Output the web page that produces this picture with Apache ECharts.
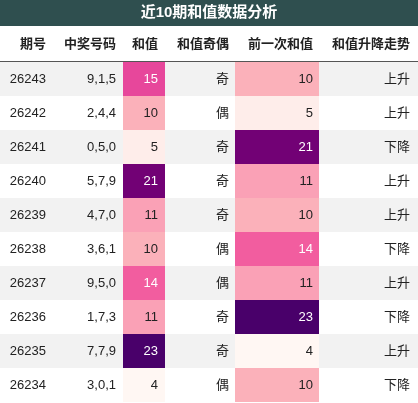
<!DOCTYPE html><html><head><meta charset="utf-8"><script src="https://cdn.jsdelivr.net/npm/echarts@6/dist/echarts.min.js"></script>
<style>html,body{margin:0;padding:0;background:#fff}#c{width:418px;height:403px}</style></head><body><div id="c"></div>
<script>
const title = '近10期和值数据分析';
const headers = ['期号','中奖号码','和值','和值奇偶','前一次和值','和值升降走势'];
const issues = ['26243','26242','26241','26240','26239','26238','26237','26236','26235','26234'];
const numbers = ['9,1,5','2,4,4','0,5,0','5,7,9','4,7,0','3,6,1','9,5,0','1,7,3','7,7,9','3,0,1'];
const sums = [15,10,5,21,11,10,14,11,23,4];
const parity = ['奇','偶','奇','奇','奇','偶','偶','奇','奇','偶'];
const prevSums = [10,5,21,11,10,14,11,23,4,10];
const trend = ['上升','上升','下降','上升','上升','下降','上升','下降','上升','下降'];

const cols = [[0,50,46],[50,120,116],[123,165,158],[165,235,229],[235,319,313],[319,418,410]];
const FONT = '"Liberation Sans","Noto Sans CJK SC",sans-serif';
const chart = echarts.init(document.getElementById('c'));
const rowIdx = issues.map((_, i) => i);
const heat = [];
sums.forEach((v,i)=>heat.push([0,i,v,2]));
prevSums.forEach((v,i)=>heat.push([0,i,v,4]));
const texts = [];
issues.forEach((s,i)=>{texts.push([0,i,s,0]);texts.push([0,i,numbers[i],1]);texts.push([0,i,parity[i],3]);texts.push([0,i,trend[i],5]);});

function cellRect(api,row,c){
  const p = api.coord([cols[c][0],row]); const p2 = api.coord([cols[c][1],row]);
  const h = api.size([0,1])[1];
  return {x:p[0],y:p[1]-h/2,w:p2[0]-p[0],h:h,cy:p[1],tx:api.coord([cols[c][2],row])[0]};
}
chart.setOption({
  animation:false,
  grid:{left:0,right:0,top:62,bottom:1},
  xAxis:{type:'value',min:0,max:418,show:false},
  yAxis:{type:'category',data:rowIdx,inverse:true,show:false},
  visualMap:{show:false,seriesIndex:1,dimension:2,min:4,max:23,
    inRange:{color:['#fff7f3','#fde0dd','#fcc5c0','#fa9fb5','#f768a1','#dd3497','#ae017e','#7a0177','#49006a']}},
  graphic:[
    {type:'rect',shape:{x:0,y:0,width:418,height:26},style:{fill:'#2f4f4f'}},
    {type:'text',x:209,y:13,style:{text:title,fill:'#fff',font:'bold 15px '+FONT,align:'center',verticalAlign:'middle'}},
    {type:'line',shape:{x1:0,y1:61.5,x2:418,y2:61.5},style:{stroke:'#555',lineWidth:1}},
    ...headers.map((h,i)=>({type:'text',x:cols[i][2],y:44,style:{text:h,fill:'#222',font:'bold 13px '+FONT,align:'right',verticalAlign:'middle'}}))
  ],
  series:[
    {type:'custom',data:rowIdx.map(i=>[0,i]),renderItem:(p,api)=>{
      const r=api.value(1); const c=cellRect(api,r,0); const c2=cellRect(api,r,5);
      return {type:'rect',shape:{x:0,y:c.y,width:c2.x+c2.w,height:c.h},style:{fill:r%2===0?'#f2f2f2':'#ffffff'}};}},
    {type:'custom',data:heat,renderItem:(p,api)=>{
      const r=api.value(1),v=api.value(2),ci=api.value(3); const c=cellRect(api,r,ci);
      return {type:'group',children:[
        {type:'rect',shape:{x:c.x,y:c.y,width:c.w,height:c.h},style:{fill:api.visual('color')}},
        {type:'text',x:c.tx,y:c.cy,style:{text:String(v),fill:v>=14?'#fff':'#222',font:'13px '+FONT,align:'right',verticalAlign:'middle'}}]};}},
    {type:'custom',data:texts,renderItem:(p,api)=>{
      const r=api.value(1),ci=api.value(3); const c=cellRect(api,r,ci);
      return {type:'text',x:c.tx,y:c.cy,style:{text:texts[p.dataIndex][2],fill:'#222',font:'13px '+FONT,align:'right',verticalAlign:'middle'}};}}
  ]
});
</script></body></html>
